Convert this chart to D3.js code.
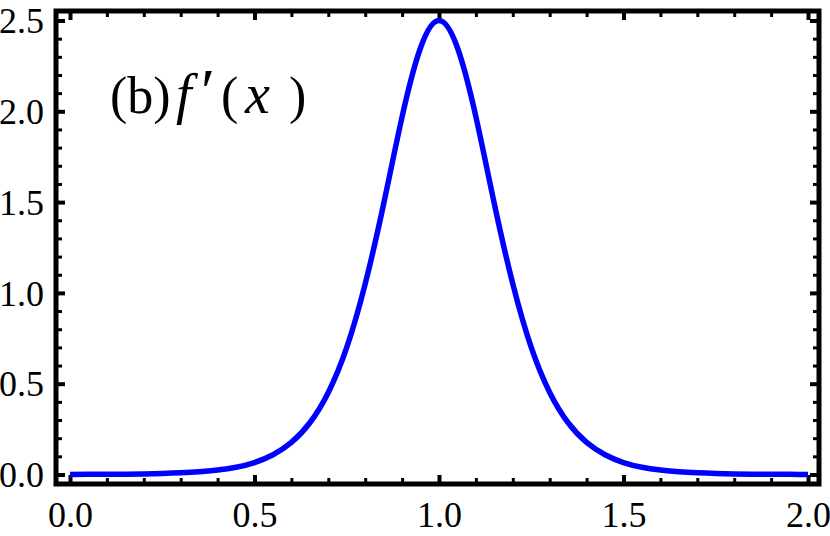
<!DOCTYPE html>
<html lang="en">
<head>
    <meta charset="UTF-8">
    <title>f'(x)</title>
</head>
<style>
    body { margin: 0; background: #fff; }
    .ticklab text { font-family: "Liberation Serif", "DejaVu Serif", serif; font-size: 36px; fill: #000; }
    .ticks path { display: none; }
    .ticks line { stroke: #000; }
    .line { fill: none; stroke: #0000ff; stroke-width: 5.5px; }
</style>
<body>
<svg width="830" height="536"></svg>
<script src="https://d3js.org/d3.v7.min.js"></script>
<script>
    // curve samples
    var xs = [0.00, 0.05, 0.10, 0.15, 0.20, 0.25, 0.30, 0.35, 0.40, 0.45,
              0.50, 0.55, 0.60, 0.65, 0.70, 0.75, 0.80, 0.85, 0.90, 0.95,
              1.00,
              1.05, 1.10, 1.15, 1.20, 1.25, 1.30, 1.35, 1.40, 1.45, 1.50,
              1.55, 1.60, 1.65, 1.70, 1.75, 1.80, 1.85, 1.90, 1.95, 2.00];
    var ys = [0.0005, 0.0008, 0.0012, 0.002, 0.0034, 0.0055, 0.009, 0.015, 0.025, 0.040,
              0.066, 0.109, 0.177, 0.285, 0.452, 0.70, 1.05, 1.49, 1.97, 2.35,
              2.50,
              2.35, 1.97, 1.49, 1.05, 0.70, 0.452, 0.285, 0.177, 0.109, 0.066,
              0.040, 0.025, 0.015, 0.009, 0.0055, 0.0034, 0.002, 0.0012, 0.0008, 0.0005];
    var xTicks = [0, 0.5, 1, 1.5, 2];
    var yTicks = [0, 0.5, 1, 1.5, 2, 2.5];

    var svg = d3.select("svg");
    var frame = {left: 56, right: 819, top: 11, bottom: 484};

    var x = d3.scaleLinear().domain([0, 2]).range([70, 808]);
    var y = d3.scaleLinear().domain([0, 2.5]).range([474.5, 20.5]);

    var xMinor = d3.range(0, 21).map(function (i) { return i / 10; })
        .filter(function (v) { return Math.abs(v * 2 - Math.round(v * 2)) > 1e-6; });
    var yMinor = d3.range(0, 26).map(function (i) { return i / 10; })
        .filter(function (v) { return Math.abs(v * 2 - Math.round(v * 2)) > 1e-6; });

    function tickAxis(axis, vals, size, width, tr) {
        var g = svg.append("g")
            .attr("class", "ticks")
            .attr("transform", tr)
            .call(axis.tickValues(vals).tickSize(size).tickFormat(""));
        g.selectAll("line").attr("stroke-width", width);
    }
    // major and minor ticks, pointing inward on all four sides
    tickAxis(d3.axisBottom(x), xTicks, -9, 4, "translate(0," + frame.bottom + ")");
    tickAxis(d3.axisBottom(x), xMinor, -6, 3, "translate(0," + frame.bottom + ")");
    tickAxis(d3.axisTop(x), xTicks, -9, 4, "translate(0," + frame.top + ")");
    tickAxis(d3.axisTop(x), xMinor, -6, 3, "translate(0," + frame.top + ")");
    tickAxis(d3.axisLeft(y), yTicks, -9, 4, "translate(" + frame.left + ",0)");
    tickAxis(d3.axisLeft(y), yMinor, -6, 3, "translate(" + frame.left + ",0)");
    tickAxis(d3.axisRight(y), yTicks, -9, 4, "translate(" + frame.right + ",0)");
    tickAxis(d3.axisRight(y), yMinor, -6, 3, "translate(" + frame.right + ",0)");

    // tick labels
    var fmt = d3.format(".1f");
    var xl = svg.append("g")
        .attr("class", "ticklab")
        .attr("transform", "translate(0," + frame.bottom + ")")
        .call(d3.axisBottom(x).tickValues(xTicks).tickFormat(fmt).tickSize(0).tickPadding(0));
    xl.select(".domain").remove();
    xl.selectAll("text").attr("y", 43).attr("dy", null);

    var yl = svg.append("g")
        .attr("class", "ticklab")
        .attr("transform", "translate(" + frame.left + ",0)")
        .call(d3.axisLeft(y).tickValues(yTicks).tickFormat(fmt).tickSize(0).tickPadding(0));
    yl.select(".domain").remove();
    yl.selectAll("text").attr("x", -12).attr("dy", "0.34em");

    // the curve
    var pts = xs.map(function (v, i) { return [v, ys[i]]; });
    var line = d3.line()
        .x(function (d) { return x(d[0]); })
        .y(function (d) { return y(d[1]); })
        .curve(d3.curveNatural);
    svg.append("path")
        .datum(pts)
        .attr("class", "line")
        .attr("d", line);

    // thick frame
    svg.append("rect")
        .attr("x", frame.left)
        .attr("y", frame.top)
        .attr("width", frame.right - frame.left)
        .attr("height", frame.bottom - frame.top)
        .attr("fill", "none")
        .attr("stroke", "#000")
        .attr("stroke-width", 5);

    // panel label
    var lab = svg.append("text")
        .attr("y", 113)
        .attr("font-family", "Liberation Serif, DejaVu Serif, serif")
        .attr("font-size", 52)
        .attr("fill", "#000");
    lab.append("tspan").attr("x", 110).text("(b)");
    lab.append("tspan").attr("x", 176).attr("font-style", "italic").attr("font-size", 56).text("f");
    lab.append("tspan").attr("x", 201).attr("font-size", 64).text("\u2032");
    lab.append("tspan").attr("x", 221).text("(");
    lab.append("tspan").attr("x", 245).attr("font-style", "italic").attr("font-size", 56).text("x");
    lab.append("tspan").attr("x", 289).text(")");
</script>
</body>
</html>
